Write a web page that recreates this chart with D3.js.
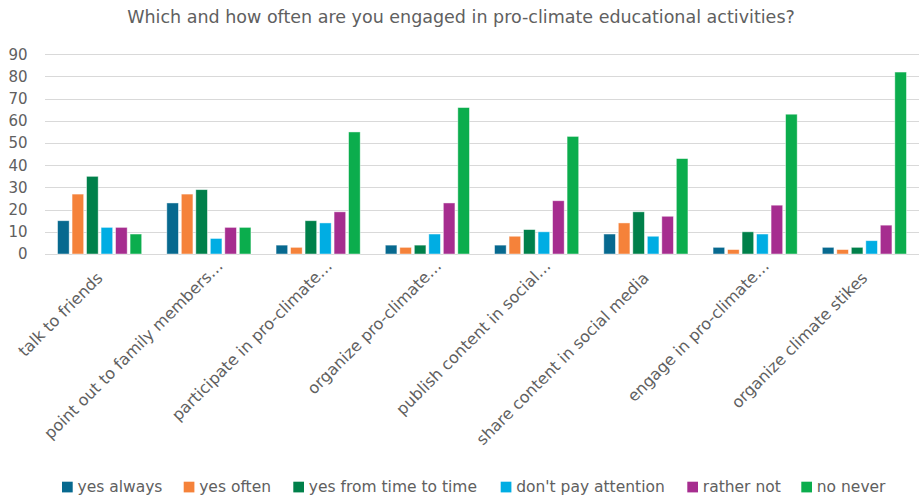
<!DOCTYPE html>
<html>
<head>
<meta charset="utf-8">
<script src="https://cdn.jsdelivr.net/npm/d3@7"></script>
<style>
    body { margin: 0; background: #fff; }
    svg text { font-family: "DejaVu Sans", sans-serif; fill: #606060; }
</style>
</head>
<body>
<div id="chart"></div>
<script>
// chart data
var categories = [
    'talk to friends',
    'point out to family members…',
    'participate in pro-climate…',
    'organize pro-climate…',
    'publish content in social…',
    'share content in social media',
    'engage in pro-climate…',
    'organize climate stikes'
];
var seriesNames = ['yes always', 'yes often', 'yes from time to time', "don't pay attention", 'rather not', 'no never'];
var seriesColors = ['#07698F', '#F5823A', '#00804A', '#00ADE3', '#A62D8F', '#0BAD4D'];

var yesAlways      = [15, 23, 4, 4, 4, 9, 3, 3];
var yesOften       = [27, 27, 3, 3, 8, 14, 2, 2];
var fromTimeToTime = [35, 29, 15, 4, 11, 19, 10, 3];
var dontPay        = [12, 7, 14, 9, 10, 8, 9, 6];
var ratherNot      = [12, 12, 19, 23, 24, 17, 22, 13];
var noNever        = [9, 12, 55, 66, 53, 43, 63, 82];
var yTicks = [0, 10, 20, 30, 40, 50, 60, 70, 80, 90];

var seriesValues = [yesAlways, yesOften, fromTimeToTime, dontPay, ratherNot, noNever];

var view = { width: 921, height: 499 };
var margin = { left: 45, right: 2 };

var svg = d3.select('#chart')
    .append('svg')
    .attr('width', view.width)
    .attr('height', view.height);

var x0 = d3.scaleBand()
    .domain(categories)
    .range([margin.left, view.width - margin.right])
    .paddingInner(0.23)
    .paddingOuter(0.115);

var x1 = d3.scaleBand()
    .domain(seriesNames)
    .range([0, x0.bandwidth()])
    .paddingInner(0.2);

var y = d3.scaleLinear()
    .domain([0, 90])
    .range([254, 54.3]);

// title
svg.append('text')
    .attr('x', 461)
    .attr('y', 23)
    .attr('text-anchor', 'middle')
    .style('font-size', '17.5px')
    .text('Which and how often are you engaged in pro-climate educational activities?');

// gridlines
svg.append('g').selectAll('line')
    .data(yTicks)
    .enter().append('line')
    .attr('x1', margin.left)
    .attr('x2', view.width - margin.right)
    .attr('y1', function(d) { return Math.round(y(d)) + 0.5; })
    .attr('y2', function(d) { return Math.round(y(d)) + 0.5; })
    .style('stroke', '#d9d9d9')
    .style('stroke-width', 1);

// y axis labels
var yAxis = d3.axisLeft(y).tickValues(yTicks).tickSize(0).tickPadding(0);
var yg = svg.append('g')
    .attr('transform', 'translate(27.5,0)')
    .call(yAxis);
yg.select('.domain').remove();
yg.selectAll('text')
    .style('font-size', '15px')
    .style('font-family', '"DejaVu Sans", sans-serif')
    .style('fill', '#606060');

// bars
var groups = svg.append('g').selectAll('g')
    .data(seriesNames)
    .enter().append('g')
    .style('fill', function(d, i) { return seriesColors[i]; });

groups.selectAll('rect')
    .data(function(d, i) {
        return seriesValues[i].map(function(v, j) {
            return { series: d, category: categories[j], value: v };
        });
    })
    .enter().append('rect')
    .attr('x', function(d) { return x0(d.category) + x1(d.series); })
    .attr('y', function(d) { return y(d.value); })
    .attr('width', x1.bandwidth())
    .attr('height', function(d) { return y(0) - y(d.value); })
    .style('stroke', 'rgba(255,255,255,0.55)')
    .style('stroke-width', 0.8);

// category labels (truncated ones sit a bit further up the diagonal)
svg.append('g').selectAll('text')
    .data(categories)
    .enter().append('text')
    .attr('transform', function(d) {
        var cx = x0(d) + x0.bandwidth() / 2 + 4;
        var cy = 279;
        if (d.slice(-1) === '…') {
            cx += 11;
            cy -= 12;
        }
        return 'translate(' + cx + ',' + cy + ') rotate(-45)';
    })
    .attr('text-anchor', 'end')
    .style('font-size', '16px')
    .text(function(d) { return d; });

// legend
var legendX = [62, 183.7, 293.3, 500.7, 687.3, 801.3];
var legend = svg.append('g').selectAll('g')
    .data(seriesNames)
    .enter().append('g')
    .attr('transform', function(d, i) { return 'translate(' + legendX[i] + ',481.7)'; });

legend.append('rect')
    .attr('width', 10.7)
    .attr('height', 10.7)
    .style('fill', function(d, i) { return seriesColors[i]; });

legend.append('text')
    .attr('x', 15.5)
    .attr('y', 5.3)
    .attr('dy', '0.35em')
    .style('font-size', '15.5px')
    .text(function(d) { return d; });
</script>
</body>
</html>
